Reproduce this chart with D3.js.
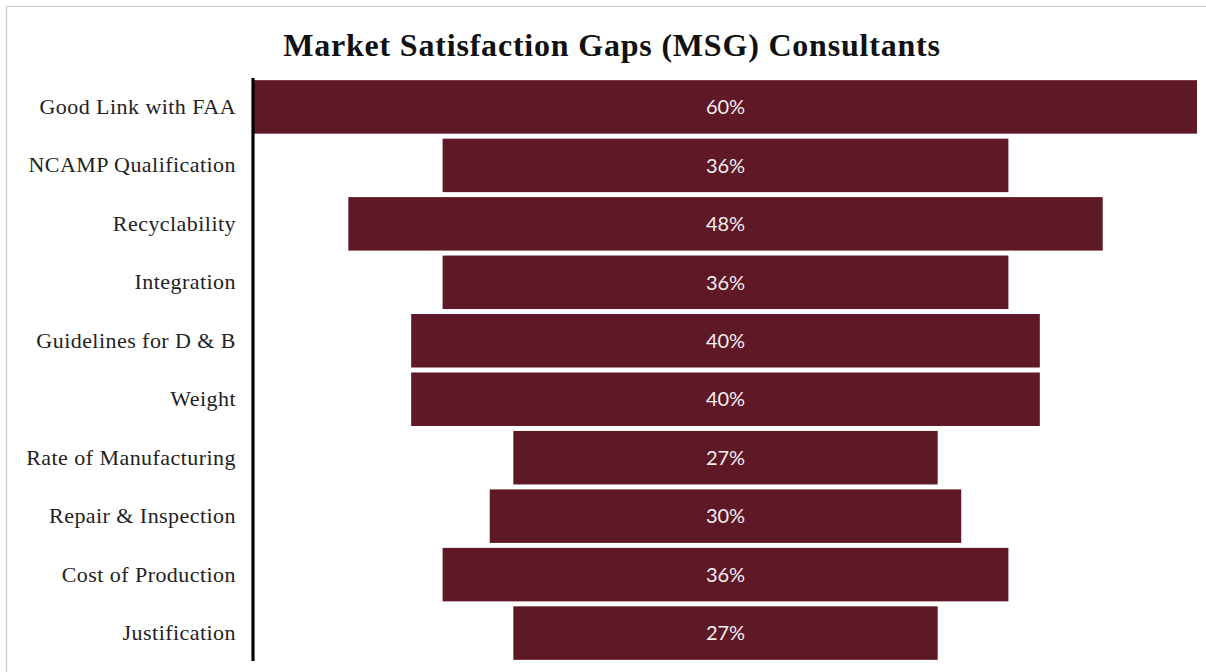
<!DOCTYPE html>
<html>
<head>
<meta charset="utf-8">
<script src="https://cdn.jsdelivr.net/npm/d3@7"></script>
<style>
  html, body { margin: 0; padding: 0; background: #ffffff; }
  svg { display: block; }
</style>
</head>
<body>
<svg id="chart" width="1206" height="672"></svg>
<script>
// Market satisfaction gap per attribute (percent of consultants)
const categories = [
  "Good Link with FAA",
  "NCAMP Qualification",
  "Recyclability",
  "Integration",
  "Guidelines for D & B",
  "Weight",
  "Rate of Manufacturing",
  "Repair & Inspection",
  "Cost of Production",
  "Justification"
];
const values = [60, 36, 48, 36, 40, 40, 27, 30, 36, 27];
const chartTitle = "Market Satisfaction Gaps (MSG) Consultants";

const svg = d3.select("#chart");
const W = 1206, H = 672;

// outer frame (open on the right and bottom edges)
svg.append("path")
  .attr("d", `M6.5,${H} V6.5 H${W}`)
  .attr("fill", "none")
  .attr("stroke", "#c8c8c8")
  .attr("stroke-width", 1.2);

const plot = { left: 254, right: 1197, top: 79, bottom: 661 };
const centerX = (plot.left + plot.right) / 2;

const y = d3.scaleBand()
  .domain(categories)
  .range([plot.top, plot.bottom])
  .paddingInner(0.085)
  .paddingOuter(0.02);

// bar widths are centered on the plot, forming a funnel
const w = d3.scaleLinear()
  .domain([0, d3.max(values)])
  .range([0, plot.right - plot.left]);

const rows = categories.map((c, i) => ({ cat: c, val: values[i] }));

svg.append("g")
  .selectAll("rect")
  .data(rows)
  .join("rect")
  .attr("x", d => centerX - w(d.val) / 2)
  .attr("y", d => y(d.cat))
  .attr("width", d => w(d.val))
  .attr("height", y.bandwidth())
  .attr("fill", "#5e1826");

svg.append("g")
  .selectAll("text")
  .data(rows)
  .join("text")
  .attr("x", centerX)
  .attr("y", d => y(d.cat) + y.bandwidth() / 2)
  .attr("dy", "0.36em")
  .attr("text-anchor", "middle")
  .attr("fill", "#f4eef0")
  .attr("font-family", "Lato, 'Open Sans', sans-serif")
  .attr("font-size", 20)
  .text(d => d.val + "%");

// category axis on the left
const axis = d3.axisLeft(y).tickSize(0).tickPadding(17);
const gAxis = svg.append("g")
  .attr("transform", `translate(${plot.left - 1},0)`)
  .call(axis);
gAxis.select(".domain")
  .attr("d", `M0,${plot.top - 1} V${plot.bottom}`)
  .attr("stroke", "#000")
  .attr("stroke-width", 3.2);
gAxis.selectAll(".tick text")
  .attr("font-family", "'Liberation Serif', 'DejaVu Serif', serif")
  .attr("font-size", 22)
  .attr("letter-spacing", 0.45)
  .attr("fill", "#222");

svg.append("text")
  .attr("x", 612)
  .attr("y", 56)
  .attr("text-anchor", "middle")
  .attr("font-family", "'Liberation Serif', 'DejaVu Serif', serif")
  .attr("font-weight", "bold")
  .attr("font-size", 32)
  .attr("letter-spacing", 0.8)
  .attr("fill", "#111")
  .text(chartTitle);
</script>
</body>
</html>
